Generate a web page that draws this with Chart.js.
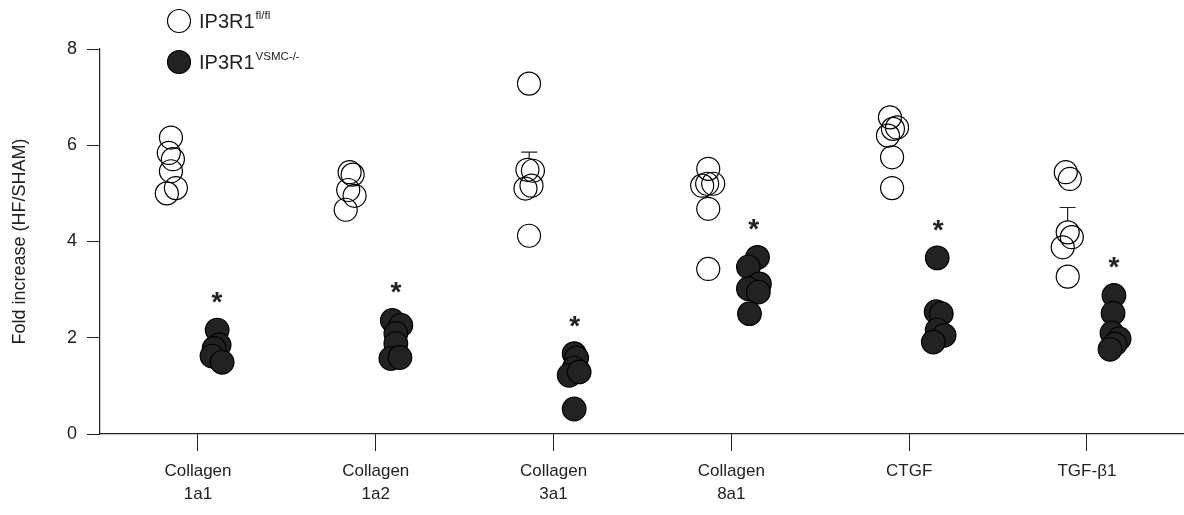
<!DOCTYPE html>
<html lang="en">
<head>
  <meta charset="UTF-8" />
  <title>Fold increase HF/SHAM</title>
  <script src="https://cdn.jsdelivr.net/npm/chart.js"></script>
  <style>
    html, body { margin: 0; padding: 0; background: #fff; }
    #foldChart { display: block; }
  </style>
</head>
<body>
  <canvas id="foldChart" width="1184" height="515"></canvas>

<script>
  // categories (x axis)
  const genes = [["Collagen", "1a1"], ["Collagen", "1a2"], ["Collagen", "3a1"], ["Collagen", "8a1"], ["CTGF"], ["TGF-\u03b21"]];
  const yTicks = [0, 2, 4, 6, 8];

  // IP3R1 fl/fl (open circles), one list per gene
  const floxValues = [
    [6.16, 5.84, 5.71, 5.46, 5.00, 5.11],
    [5.44, 5.39, 5.07, 4.95, 4.66],
    [7.28, 5.49, 5.47, 5.10, 5.16, 4.12],
    [5.51, 5.20, 5.20, 5.16, 4.68, 3.43],
    [6.58, 6.37, 6.34, 6.20, 5.75, 5.11],
    [5.44, 5.30, 4.19, 4.09, 3.88, 3.27]
  ];

  // IP3R1 VSMC-/- (filled circles)
  const koValues = [
    [2.16, 1.85, 1.78, 1.62, 1.49],
    [2.36, 2.26, 2.09, 1.88, 1.57, 1.59],
    [1.67, 1.58, 1.37, 1.22, 1.29, 0.52],
    [3.67, 3.47, 3.12, 3.02, 2.95, 2.50],
    [3.66, 2.54, 2.50, 2.16, 2.05, 1.91],
    [2.88, 2.51, 2.10, 1.98, 1.87, 1.76]
  ];

  // significant difference marker per gene
  const significant = [true, true, true, true, true, true];

  // horizontal spread of the dots inside a group (category units)
  const floxJitter = [
    [-0.022, -0.034, -0.011, -0.022, -0.045, 0.006],
    [-0.017, 0, -0.025, 0.011, -0.039],
    [-0.008, -0.017, 0.014, -0.028, 0.006, -0.008],
    [0, -0.006, 0.028, -0.034, 0, 0],
    [0.022, 0.062, 0.039, 0.011, 0.034, 0.034],
    [0.011, 0.034, 0.022, 0.045, -0.006, 0.022]
  ];
  const koJitter = [
    [-0.022, -0.011, -0.039, -0.051, 0.006],
    [-0.037, 0.011, -0.017, -0.017, -0.045, 0.006],
    [-0.014, 0, -0.014, -0.042, 0.014, -0.014],
    [0.017, -0.034, 0.028, -0.034, 0.022, -0.028],
    [0.028, 0.022, 0.051, 0.028, 0.067, 0.006],
    [0.022, 0.017, 0.011, 0.051, 0.028, 0]
  ];
  const groupShift = 0.13;

  const INK = "#222";
  const FONT = "'Liberation Sans', Arial, sans-serif";

  function toPoints(values, jitter, shift) {
    const pts = [];
    values.forEach((list, g) => {
      list.forEach((v, k) => pts.push({ x: g + 1 + shift + jitter[g][k], y: v, g: g }));
    });
    return pts;
  }

  const floxPoints = toPoints(floxValues, floxJitter, -groupShift);
  const koPoints = toPoints(koValues, koJitter, groupShift);

  function meanSem(list) {
    const m = list.reduce((a, b) => a + b, 0) / list.length;
    const sd = Math.sqrt(list.reduce((a, b) => a + (b - m) * (b - m), 0) / (list.length - 1));
    return { mean: m, sem: sd / Math.sqrt(list.length) };
  }

  // upper SEM bars, drawn under the dots
  const errorBars = {
    id: "errorBars",
    beforeDatasetsDraw(chart) {
      const { ctx, scales: { x, y } } = chart;
      ctx.save();
      ctx.strokeStyle = INK;
      ctx.lineWidth = 1.2;
      [[floxValues, floxPoints], [koValues, koPoints]].forEach(([vals, pts]) => {
        vals.forEach((list, g) => {
          const s = meanSem(list);
          const gp = pts.filter(p => p.g === g);
          const cx = x.getPixelForValue(gp.reduce((a, p) => a + p.x, 0) / gp.length);
          const y0 = y.getPixelForValue(s.mean);
          const y1 = y.getPixelForValue(s.mean + s.sem);
          ctx.beginPath();
          ctx.moveTo(cx, y0);
          ctx.lineTo(cx, y1);
          ctx.moveTo(cx - 8, y1);
          ctx.lineTo(cx + 8, y1);
          ctx.stroke();
        });
      });
      ctx.restore();
    }
  };

  // asterisks over the knockout groups
  const stars = {
    id: "stars",
    afterDatasetsDraw(chart) {
      const { ctx, scales: { x, y } } = chart;
      ctx.save();
      ctx.fillStyle = INK;
      ctx.font = "bold 28px " + FONT;
      ctx.textAlign = "center";
      ctx.textBaseline = "alphabetic";
      koValues.forEach((list, g) => {
        if (!significant[g]) return;
        const gp = koPoints.filter(p => p.g === g);
        const cx = x.getPixelForValue(gp.reduce((a, p) => a + p.x, 0) / gp.length);
        const top = y.getPixelForValue(Math.max(...list));
        ctx.fillText("*", cx, top - 19);
      });
      ctx.restore();
    }
  };

  // legend with superscripts
  const supLegend = {
    id: "supLegend",
    afterDraw(chart) {
      const ctx = chart.ctx;
      const rows = [
        { y: 21, sup: "fl/fl", fill: "#fff" },
        { y: 62, sup: "VSMC-/-", fill: INK }
      ];
      ctx.save();
      rows.forEach(r => {
        ctx.beginPath();
        ctx.arc(179, r.y, 11.5, 0, Math.PI * 2);
        ctx.fillStyle = r.fill;
        ctx.fill();
        ctx.lineWidth = 1.2;
        ctx.strokeStyle = "#000";
        ctx.stroke();
        ctx.fillStyle = INK;
        ctx.textBaseline = "alphabetic";
        ctx.textAlign = "left";
        ctx.font = "20px " + FONT;
        ctx.fillText("IP3R1", 199, r.y + 7);
        const w = ctx.measureText("IP3R1").width;
        ctx.font = "11.5px " + FONT;
        ctx.fillText(r.sup, 199 + w + 1, r.y - 2);
      });
      ctx.restore();
    }
  };

  document.addEventListener("DOMContentLoaded", () => {
    const ctx = document.getElementById("foldChart").getContext("2d");
    new Chart(ctx, {
      type: "scatter",
      data: {
        datasets: [
          {
            label: "IP3R1 fl/fl",
            data: floxPoints,
            backgroundColor: "rgba(255,255,255,0)",
            borderColor: "#000",
            borderWidth: 1.2,
            pointRadius: 11.5
          },
          {
            // white discs under the open rings so bars stay hidden
            label: "fill",
            data: floxPoints,
            backgroundColor: "#fff",
            borderWidth: 0,
            pointRadius: 11.5
          },
          {
            label: "IP3R1 VSMC-/-",
            data: koPoints,
            backgroundColor: INK,
            borderColor: "#000",
            borderWidth: 1.2,
            pointRadius: 11.8
          }
        ]
      },
      options: {
        responsive: false,
        animation: false,
        layout: { autoPadding: false, padding: { top: 49, left: 0, right: 0, bottom: 0 } },
        plugins: {
          legend: { display: false },
          tooltip: { enabled: false }
        },
        scales: {
          x: {
            type: "linear",
            min: 0.449,
            max: 6.546,
            afterBuildTicks: s => { s.ticks = genes.map((g, i) => ({ value: i + 1 })); },
            afterFit: s => { s.height = 81; s.paddingLeft = 0; s.paddingRight = 0; },
            ticks: {
              autoSkip: false,
              maxRotation: 0,
              color: INK,
              padding: 8,
              font: { family: FONT, size: 17, lineHeight: 1.4 },
              callback: v => genes[v - 1]
            },
            grid: { drawOnChartArea: false, tickLength: 17, color: INK },
            border: { color: INK, width: 1.2 }
          },
          y: {
            min: 0,
            max: 8,
            afterBuildTicks: s => { s.ticks = yTicks.map(v => ({ value: v })); },
            afterFit: s => { s.width = 100; },
            ticks: {
              color: INK,
              padding: 10,
              font: { family: FONT, size: 18 }
            },
            grid: { drawOnChartArea: false, tickLength: 13, color: INK },
            border: { color: INK, width: 1.2 },
            title: {
              display: true,
              text: "Fold increase (HF/SHAM)",
              color: INK,
              padding: { top: 9, bottom: 0 },
              font: { family: FONT, size: 18 }
            }
          }
        }
      },
      plugins: [errorBars, stars, supLegend]
    });
  });
</script>

</body>
</html>
